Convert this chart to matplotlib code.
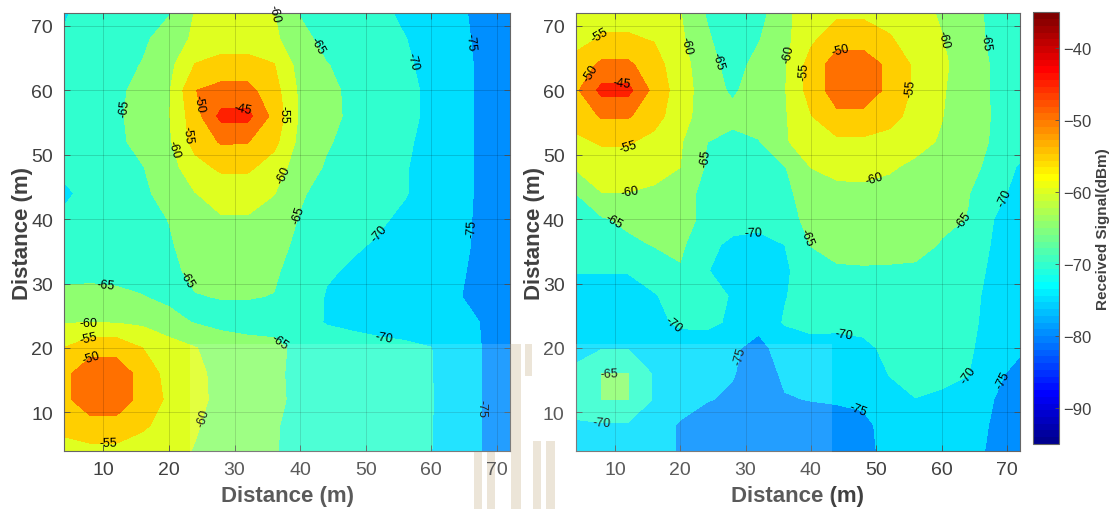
import numpy as np
import matplotlib
matplotlib.use("Agg")
import matplotlib.pyplot as plt
from matplotlib.colors import ListedColormap, Normalize
from matplotlib.cm import ScalarMappable
from matplotlib.patches import Rectangle

plt.rcParams['font.family'] = ['Liberation Sans', 'DejaVu Sans']
plt.rcParams['axes.unicode_minus'] = True

# measurement grid (m)
x_nodes = [4, 8, 12, 16, 20, 24, 28, 32, 36, 40, 44, 48, 52, 56, 60, 64, 68, 72]
y_rows = [72, 68, 64, 60, 56, 52, 48, 44, 40, 36, 32, 28, 24, 20, 16, 12, 8, 4]

# received signal (dBm), one row per y in y_rows (top row first)
rssi_left = [
    [-70.5, -68, -67, -66, -65.3, -59.7, -58.5, -58.5, -59.9, -65.3, -66.5, -67.5, -69, -70.8, -72, -74.5, -75.8, -77],
    [-69.5, -68, -67, -65.8, -63, -59, -58, -58, -59, -63.5, -66.5, -67.5, -68.5, -69.9, -71.5, -74, -76, -77],
    [-68.5, -67.5, -66.5, -64.8, -61.5, -54.8, -53, -53, -54.8, -62, -64.8, -66.5, -68, -69.5, -71, -73.5, -76, -77],
    [-68, -67, -66, -63.5, -60.5, -50.1, -48.5, -48.5, -53, -61, -63.8, -66, -67.5, -69, -70.8, -73.5, -76, -77],
    [-67.5, -66.8, -65.8, -63, -60.3, -52, -43.5, -43.5, -51.5, -60.8, -63.5, -66, -67.5, -69, -70.8, -73.5, -76, -77],
    [-67.5, -67, -66, -63.5, -60.8, -53, -49.5, -49.8, -53.5, -61.5, -64.5, -66.5, -68, -69.5, -71, -73.5, -76, -77],
    [-68, -67.5, -66.5, -65.2, -62, -57, -54, -54, -57.5, -62.5, -65.5, -67, -68.5, -69.8, -71.2, -73.5, -76, -77],
    [-71.5, -67.5, -67.5, -66, -63, -60.1, -58.5, -58.5, -59.8, -64.5, -66.5, -68, -69.5, -69.8, -71.5, -73.5, -76, -77],
    [-68.5, -68, -67.3, -66.3, -64.9, -62, -60.3, -60.3, -62.5, -65.3, -67, -68.3, -69.5, -70.7, -72, -73.8, -76, -77],
    [-68, -67.5, -67, -66.5, -65.5, -63, -61.5, -61.5, -63.5, -66, -68, -69.5, -70.4, -71.5, -72.5, -74, -76, -77],
    [-67, -66.5, -66.5, -66.5, -66, -64, -63, -63, -64.5, -66.5, -69.5, -70.5, -71, -71.5, -72.5, -74.5, -76, -77],
    [-63.5, -63.5, -64, -64.9, -66, -65.2, -64.8, -64.8, -65.1, -67, -70.3, -71, -71.3, -71.5, -72.5, -74.8, -76, -77],
    [-60.2, -60.2, -60.3, -61, -63.5, -65.3, -66.5, -66.5, -66.5, -68, -70.3, -70.8, -71, -71, -71.5, -73.5, -75.3, -77],
    [-54.9, -51.5, -51.5, -55, -57.5, -59.8, -62, -63.5, -64, -66, -67.5, -68.5, -69.2, -69.6, -69.95, -72, -75.3, -77],
    [-51, -47.5, -47.5, -51.5, -57, -58.8, -61.5, -63, -64.3, -66, -67.5, -68.5, -69, -69.5, -69.9, -72, -75.3, -77],
    [-51, -47.5, -47.5, -51.5, -56, -58.5, -61.5, -63, -64.3, -65.8, -67, -68, -68.8, -69.3, -69.8, -72, -75.3, -77],
    [-53, -51.5, -51.5, -54, -57.5, -59.5, -62, -63.5, -64.7, -66, -67.2, -68, -68.7, -69.3, -69.9, -72, -75.3, -77],
    [-57.5, -56.5, -56.5, -58, -58.5, -60.3, -62.5, -64, -64.8, -66, -67, -68, -68.8, -69.5, -69.95, -72, -75.3, -77],
]

rssi_right = [
    [-58, -56.5, -56.5, -57.5, -59.8, -65.2, -67, -67, -61, -57.5, -56, -56, -57, -58.5, -60.5, -63.5, -66, -67.5],
    [-57, -54.5, -54.5, -55.3, -59, -64.5, -67, -65.3, -61.5, -56, -52, -52, -54.5, -57.5, -59.8, -63, -66, -67.5],
    [-53, -49, -49, -53, -58, -63, -67, -63.5, -60.5, -53, -47.5, -47.5, -51, -56, -59, -62.5, -65.5, -67],
    [-51, -43.5, -43.5, -51.5, -57.5, -62.5, -65.8, -62.5, -60.3, -53, -47.5, -47.5, -51, -56, -59.5, -62.5, -65.5, -67],
    [-53, -49.5, -49.5, -53, -58, -62.5, -63.5, -62.5, -60.5, -55.2, -51, -51, -53, -57, -59.8, -63, -65.3, -67],
    [-56, -54.5, -54.5, -56.5, -59.5, -64.9, -66.5, -65.3, -60.3, -58.5, -56, -56, -57, -58.5, -60.5, -63, -65.5, -67],
    [-59.5, -57.5, -57.5, -58, -60, -65.5, -67, -67, -65.3, -60, -59, -59, -59.5, -61, -62.5, -64, -66, -70.8],
    [-65, -60.1, -60.1, -61, -63.5, -66, -68, -68, -66.5, -62, -61, -60.8, -61.5, -62, -63, -64.7, -68.5, -71.5],
    [-67, -65.5, -64, -63, -63.5, -66, -68.5, -69, -67, -63.5, -62, -62, -62, -62.5, -63.5, -65.2, -70, -72],
    [-67.5, -67, -66, -64.8, -64, -69, -70.8, -71, -70, -64.9, -62.5, -62, -62, -62.5, -65.5, -67, -70.5, -72],
    [-69.8, -69.8, -69.8, -67.5, -65.5, -69.8, -71.5, -72, -71, -66.5, -66, -65.8, -66, -66.3, -67, -68.5, -70.7, -72],
    [-71.5, -71.5, -71.5, -70.5, -67.5, -67.5, -70.5, -72, -70.3, -67.5, -67.5, -67.5, -67.5, -68, -68.5, -69, -71, -72.5],
    [-72, -72, -72, -71.5, -69, -68.5, -71, -74, -69.5, -69.2, -69.3, -69.3, -68.5, -68.5, -68.5, -69.3, -71, -72.5],
    [-71.5, -70.3, -70.3, -72, -73, -73.5, -74.5, -76, -73.5, -71, -71, -70.5, -69.5, -68, -68, -69.5, -71.5, -74],
    [-69, -64.9, -64.9, -70.5, -72, -73, -74.8, -76.5, -74.5, -72.5, -72.5, -72, -69.9, -68.5, -68.5, -69.8, -73.5, -77],
    [-69, -64.9, -64.9, -70.5, -73, -74.8, -75.5, -76.5, -75.2, -74.9, -74.5, -74.2, -71, -70.1, -71, -72, -75, -77],
    [-70.3, -70.5, -70.5, -73, -75.5, -76.5, -76.5, -77, -76.5, -76.5, -77, -76, -73.5, -72.5, -72.5, -73, -75.5, -77.5],
    [-75.2, -72.5, -72.5, -73.5, -75.3, -76.5, -77, -77, -77, -77, -77.5, -76, -74, -73, -73, -73.5, -75.8, -78],
]

levels = [-95, -90, -85, -80, -75, -70, -65, -60, -55, -50, -45, -40, -35]
cbar_ticks = [-90, -80, -70, -60, -50, -40]

# where the contour labels sit (level, x, y)
left_label_spots = [
    (-60, 31.9, 71.5), (-65, 41.7, 66.4), (-70, 56.8, 64.5), (-75, 66.0, 67.6),
    (-65, 14.1, 57.2), (-50, 26.5, 58.3), (-45, 31.2, 56.3), (-55, 37.1, 56.3),
    (-55, 22.8, 53.2), (-60, 20.7, 50.9), (-60, 37.9, 46.7), (-65, 39.6, 40.8),
    (-70, 52.2, 37.7), (-75, 66.0, 38.6), (-65, 22.8, 30.7), (-65, 10.3, 29.6),
    (-60, 7.7, 23.0), (-55, 8.0, 20.6), (-50, 8.2, 18.0), (-65, 36.4, 20.3),
    (-70, 52.7, 20.8), (-60, 25.3, 9.2), (-55, 10.8, 4.8), (-75, 67.3, 10.7),
]
right_label_spots = [
    (-55, 8.2, 68.2), (-50, 6.7, 62.5), (-45, 11.0, 60.4), (-60, 21.3, 67.1),
    (-65, 25.4, 64.5), (-55, 12.0, 51.1), (-65, 23.6, 49.5), (-60, 12.3, 44.1),
    (-65, 9.7, 39.5), (-60, 36.9, 65.6), (-55, 39.2, 63.0), (-50, 44.6, 66.1),
    (-55, 55.1, 60.4), (-60, 60.8, 68.1), (-65, 66.4, 67.6), (-60, 49.7, 46.2),
    (-70, 68.7, 43.9), (-65, 63.6, 39.5), (-70, 31.3, 36.9), (-70, 18.7, 23.2),
    (-75, 29.2, 18.8), (-65, 9.2, 15.7), (-70, 8.0, 8.7), (-65, 39.2, 37.2),
    (-70, 45.1, 22.2), (-75, 47.2, 10.5), (-70, 64.4, 15.7), (-75, 68.7, 15.4),
]


def matlab_jet(m=64):
    n = int(np.ceil(m / 4))
    u = np.concatenate([np.arange(1, n + 1) / n, np.ones(n - 1), np.arange(n, 0, -1) / n])
    g = int(np.ceil(n / 2)) - (m % 4 == 1) + np.arange(1, len(u) + 1)
    r = g + n
    b = g - n
    J = np.zeros((m, 3))
    ok = r <= m
    J[r[ok] - 1, 0] = u[ok]
    ok = g <= m
    J[g[ok] - 1, 1] = u[ok]
    ok = b >= 1
    J[b[ok] - 1, 2] = u[ok]
    return ListedColormap(J)


cmap = matlab_jet(64)
norm = Normalize(vmin=-95, vmax=-35)
band_colors = [cmap(norm(v)) for v in levels[:-1]]

X = np.array(x_nodes)
Y = np.array(y_rows)[::-1]

fig = plt.figure(figsize=(11.09, 5.10), dpi=100)
ax_l = fig.add_axes([0.0577, 0.1137, 0.4022, 0.8588])
ax_r = fig.add_axes([0.5191, 0.1137, 0.4006, 0.8588])

gray = '0.25'
for ax, data, spots in [(ax_l, rssi_left, left_label_spots), (ax_r, rssi_right, right_label_spots)]:
    Z = np.array(data)[::-1]
    ax.contourf(X, Y, Z, levels=levels, colors=band_colors, antialiased=False)
    for lv in sorted(set(s[0] for s in spots)):
        pts = [(s[1], s[2]) for s in spots if s[0] == lv]
        cs = ax.contour(X, Y, Z, levels=[lv], colors='k', linewidths=0)
        texts = ax.clabel(cs, manual=pts, inline=False, fontsize=9,
                          colors='k', fmt=lambda v: f'{v:.0f}')
        for t in texts:
            t.set_clip_on(False)
            t.set_zorder(6)
    ax.set_xlim(4, 72)
    ax.set_ylim(4, 72)
    ax.set_xticks([10, 20, 30, 40, 50, 60, 70])
    ax.set_yticks([10, 20, 30, 40, 50, 60, 70])
    ax.grid(True, color='k', alpha=0.15, linewidth=0.7)
    ax.set_axisbelow(False)
    ax.tick_params(direction='in', top=True, right=True, length=4, width=0.6,
                   color='0.3', labelsize=14, labelcolor=gray)
    ax.tick_params(axis='x', pad=7)
    ax.tick_params(axis='y', pad=8)
    for sp in ax.spines.values():
        sp.set_color('0.4')
        sp.set_linewidth(0.8)
    ax.set_xlabel('Distance (m)', fontsize=16, fontweight='bold', color=gray)
    ax.set_ylabel('Distance (m)', fontsize=16, fontweight='bold', color=gray)
    ax.xaxis.set_label_coords(0.5, -0.077)
    ax.yaxis.set_label_coords(-0.07, 0.5)

cax = fig.add_axes([0.9312, 0.1275, 0.0237, 0.8464])
sm = ScalarMappable(norm=norm, cmap=cmap)
cb = fig.colorbar(sm, cax=cax, ticks=cbar_ticks)
cb.outline.set_edgecolor('0.4')
cb.outline.set_linewidth(0.8)
cax.tick_params(direction='in', length=3, width=0.6, color='0.3', labelsize=12,
                labelcolor=gray, pad=3)
cb.set_label('Received Signal(dBm)', fontsize=11, fontweight='bold', color=gray, labelpad=3)

# translucent band and watermark seen in the source image
W, H = 1109, 510
fig.add_artist(Rectangle((190 / W, 0), (832 - 190) / W, (510 - 345) / H,
                         transform=fig.transFigure, facecolor='white', alpha=0.14,
                         edgecolor='none', zorder=5))
for (px, py, pw, ph) in [(511, 345, 10, 165), (525, 345, 7, 32), (533, 442, 8, 68),
                         (546, 442, 9, 68), (474, 442, 8, 68), (487, 442, 8, 68)]:
    fig.add_artist(Rectangle((px / W, (H - py - ph) / H), pw / W, ph / H,
                             transform=fig.transFigure, facecolor='#eae1d2',
                             edgecolor='none', zorder=-1))

fig.savefig('out.png', dpi=100)
